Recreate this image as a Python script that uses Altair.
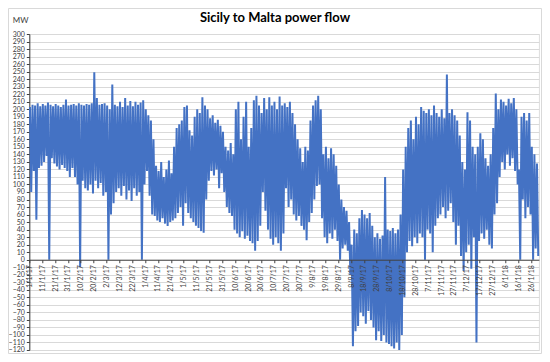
import json
import altair as alt
import pandas as pd

title_text = "Sicily to Malta power flow"
unit_label = "MW"

# x-axis tick labels (one every 10 days from 1 Jan 2017)
tick_labels = ["1/1/17", "11/1/17", "21/1/17", "31/1/17", "10/2/17", "20/2/17", "2/3/17",
               "12/3/17", "22/3/17", "1/4/17", "11/4/17", "21/4/17", "1/5/17", "11/5/17",
               "21/5/17", "31/5/17", "10/6/17", "20/6/17", "30/6/17", "10/7/17", "20/7/17",
               "30/7/17", "9/8/17", "19/8/17", "29/8/17", "8/9/17", "18/9/17", "28/9/17",
               "8/10/17", "18/10/17", "28/10/17", "7/11/17", "17/11/17", "27/11/17",
               "7/12/17", "17/12/17", "27/12/17", "6/1/18", "16/1/18", "26/1/18"]

# Peak (hi) and trough (lo) flow in MW for each 2-day block, 1 Jan 2017 - 31 Jan 2018
hi = [203, 206, 205, 208, 204, 207, 205, 209, 206, 204, 207, 205, 203, 206, 213, 205,
      206, 207, 205, 208, 206, 205, 207, 206, 208, 249, 215, 206, 207, 208,
      205, 200, 233, 206, 204, 210, 203, 215, 205, 211, 204, 210, 206, 209, 212,
      200, 192, 185, 160, 125, 118, 130, 110, 120, 132, 115, 150, 175, 180,
      185, 203, 205, 172, 165, 190, 200, 195, 216, 205,
      200, 188, 192, 182, 186, 178, 170,
      150, 145, 155, 140,
      200, 210, 160, 190, 210, 150, 175,
      212, 218, 205, 195, 215, 200,
      216, 205, 210, 200, 217, 205,
      208, 203, 210, 195, 180, 160, 148,
      130, 150, 145,
      185, 205, 212, 218, 200,
      140, 150, 135, 148, 140, 125, 100,
      80, 70, 65, 50,
      20, 40, 35, 55, 66, 60, 55, 62, 45, 30, 35, 28, 32, 110, 40, 38, 42, 35, 40, 60, 120,
      150, 175, 185, 160, 190, 180,
      203, 198, 195, 200, 192, 205, 195,
      190, 200, 188, 246, 195, 200, 192, 185,
      165, 130, 120, 196, 185, 150, 140,
      150, 168, 160, 135, 125, 140, 175,
      221, 200, 213, 210, 205, 214, 208, 215, 200,
      120,
      190, 195, 185, 195, 150,
      140, 128]

lo = [90, 118, 53, 122, 125, 130, 138, 0, 135, 128, 124, 120, 126, 122, 118, 110,
      122, 110, 100, -10, 105, 95, 92, 100, 88, 105, 95, 102, 85, 90,
      0, 60, 75, 90, 95, 85, 98, 80, 92, 78, 95, 85, 90, 0, 100,
      118, 85, 60, 58, 52, 50, 55, 48, 45, 50, 52, 55, 62, 70,
      45, 75, 62, 55, 50, 45, 42, 38, 36, 80,
      105, 118, 112, 120, 95, 115, 90,
      70, 62, 58, 40,
      35, 30, 38, 28, 32, 25, 22,
      12, 25, 45, 90, 65, 40,
      28, 20, 30, 22, 12, 35,
      95, 70, 80, 60, 52, 58, 45,
      40, 26, 50,
      62, 80, 98, 100, 55,
      30, 22, 35, 28, 40, 25, 0,
      15, 20, 12, -20,
      -115, -95, -88, -70, -75, -85, -68, -80, -90, -107, -95, -108, -100, -110, -112,
      -115, -118, -110, -120, -100, -50,
      10, 25, 18, 30, 22, 35,
      30, 0, 40, 35, 10, 45, 55,
      60, 70, 55, 65, 75, 50, 20, 45,
      5, -15, 10, 20, -12, 30, -110,
      25, 35, 28, 40, 20, 15, 60,
      75, 110, 130, 120, 140, 125, 135, 118, 100,
      0,
      80, 55, 70, 60, 0,
      15, 5]

rows = []
for k, (h, l) in enumerate(zip(hi, lo)):
    rows.append({"day": 2 * k + 0.5, "mw": h})
    rows.append({"day": 2 * k + 1.5, "mw": l})
df = pd.DataFrame(rows)

W, H = 509.6, 316
YMIN, YMAX = -120, 300
zero_offset = -(H * (0 - YMIN) / (YMAX - YMIN))
FONT = "Lato"
label_expr = json.dumps(tick_labels) + "[round(datum.value / 10)]"

line = alt.Chart(df).mark_line(color="#4472C4", strokeWidth=2).encode(
    x=alt.X("day:Q",
            scale=alt.Scale(domain=[0, 396], nice=False, zero=False),
            axis=alt.Axis(values=[10 * i for i in range(len(tick_labels))],
                          labelExpr=label_expr, labelAngle=270, labelFontSize=7,
                          labelFont=FONT, labelColor="#404040", labelPadding=2,
                          labelOverlap=False, labelBound=False, labelFlush=False,
                          tickSize=3, tickColor="#404040", domainColor="#404040",
                          domainWidth=1, grid=False, title=None,
                          offset=zero_offset, zindex=1)),
    y=alt.Y("mw:Q",
            scale=alt.Scale(domain=[YMIN, YMAX], nice=False, zero=False),
            axis=alt.Axis(values=list(range(YMIN, YMAX + 1, 10)), labelFontSize=7,
                          labelFont=FONT, labelColor="#404040", labelPadding=2,
                          labelOverlap=False, labelBound=False, labelFlush=False,
                          tickSize=3, tickColor="#404040", domainColor="#404040",
                          grid=True, gridColor="#d9d9d9", gridWidth=1,
                          title=unit_label, titleAngle=0, titleAlign="left",
                          titleBaseline="middle", titleX=-17, titleY=-14,
                          titleFont=FONT, titleFontSize=8, titleFontWeight="normal",
                          titleColor="#404040")),
)

one = pd.DataFrame({"t": [title_text]})
border = alt.Chart(one).mark_rect(fillOpacity=0, stroke="#d9d9d9", strokeWidth=1).encode(
    x=alt.value(-20.8), x2=alt.value(W + 2.6), y=alt.value(-25.5), y2=alt.value(H + 3.5)
)
title = alt.Chart(one).mark_text(font=FONT, fontSize=13, fontWeight="bold",
                                 color="#000000", align="center", baseline="middle").encode(
    x=alt.value(245.7), y=alt.value(-15.7), text="t:N"
)

chart = alt.layer(border, line, title).properties(
    width=W, height=H,
    autosize=alt.AutoSizeParams(type="none"),
    padding={"left": 21.3, "top": 26, "right": 3, "bottom": 4},
).configure_view(stroke=None).configure(background="white")

chart.save("out.html", embed_options={"renderer": "svg", "actions": False})
